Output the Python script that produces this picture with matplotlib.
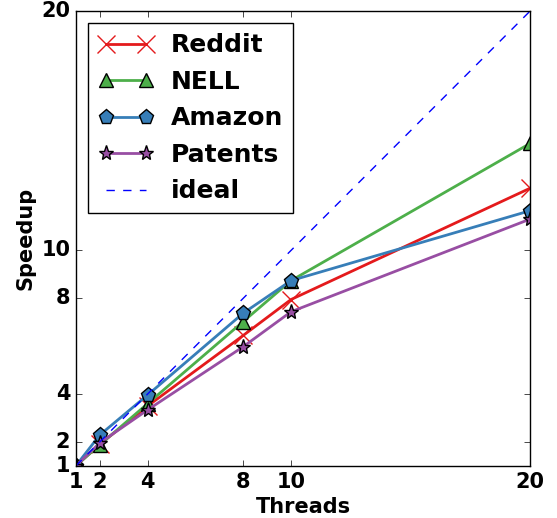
import matplotlib
matplotlib.use("Agg")
import matplotlib.pyplot as plt

threads = [1, 2, 4, 8, 10, 20]
reddit = [1.0, 1.9, 3.5, 6.45, 7.95, 12.6]
nell = [1.0, 1.88, 3.6, 7.03, 8.74, 14.47]
amazon = [1.0, 2.29, 3.96, 7.38, 8.74, 11.66]
patents = [1.0, 1.96, 3.34, 5.98, 7.44, 11.31]
ideal = [1, 20]
ticks = [1, 2, 4, 8, 10, 20]

plt.style.use("classic")
plt.rcParams["font.family"] = "DejaVu Sans"
plt.rcParams["font.weight"] = "bold"

fig = plt.figure(figsize=(5.57, 5.18), dpi=100, facecolor="white")
ax = fig.add_axes([0.136, 0.1004, 0.816, 0.8786])

ax.plot(threads, reddit, color="#e41a1c", marker="x", markersize=13, mew=1,
        mec="#e41a1c", lw=2, label="Reddit")
ax.plot(threads, nell, color="#4daf4a", marker="^", markersize=10, mec="black",
        mew=1, lw=2, label="NELL")
ax.plot(threads, amazon, color="#377eb8", marker="p", markersize=11, mec="black",
        mew=1, lw=2, label="Amazon")
ax.plot(threads, patents, color="#984ea3", marker="*", markersize=11, mec="black",
        mew=1, lw=2, label="Patents")
ax.plot(ideal, ideal, "b--", lw=1, label="ideal")

ax.set_xlim(1, 20)
ax.set_ylim(1, 20)
ax.set_xticks(ticks)
ax.set_yticks(ticks)
ax.tick_params(labelsize=15, direction="in")
for lab in ax.get_xticklabels() + ax.get_yticklabels():
    lab.set_fontweight("bold")
ax.set_xlabel("Threads", fontsize=15, fontweight="bold", labelpad=4)
ax.set_ylabel("Speedup", fontsize=15, fontweight="bold", labelpad=4)

leg = ax.legend(loc="upper left", prop={"weight": "bold", "size": 18},
                numpoints=2, handlelength=2.2, handletextpad=0.7,
                frameon=True, fancybox=False)
leg.get_frame().set_linewidth(1)

fig.savefig("out.png", dpi=100, facecolor="white")
